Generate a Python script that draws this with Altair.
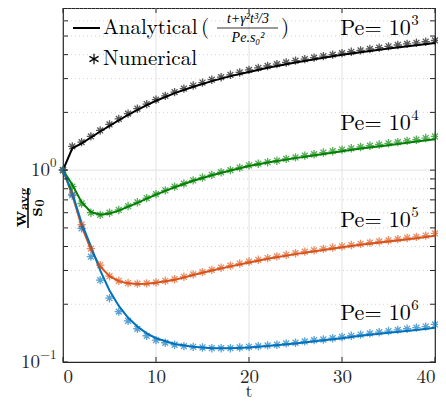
import altair as alt
import pandas as pd

# ---------------- data ----------------
series = ["Pe3", "Pe4", "Pe5", "Pe6"]
colors = ["#000000", "#008000", "#D95319", "#0072BD"]

t_line = [0, 1, 2, 3, 4, 5, 6, 7, 8, 9, 10, 12, 14, 16, 18, 20, 22, 25, 28, 30, 32, 35, 38, 40]
ana_pe3 = [1.0, 1.30, 1.38, 1.48, 1.59, 1.70, 1.82, 1.94, 2.06, 2.18, 2.30, 2.52, 2.72, 2.91, 3.09, 3.25, 3.42, 3.64, 3.85, 3.99, 4.12, 4.30, 4.48, 4.60]
ana_pe4 = [1.0, 0.84, 0.68, 0.605, 0.585, 0.595, 0.615, 0.645, 0.675, 0.71, 0.745, 0.815, 0.88, 0.94, 0.995, 1.05, 1.095, 1.155, 1.215, 1.255, 1.295, 1.35, 1.41, 1.45]
ana_pe5 = [1.0, 0.74, 0.51, 0.385, 0.315, 0.28, 0.264, 0.257, 0.255, 0.256, 0.259, 0.268, 0.284, 0.30, 0.315, 0.33, 0.345, 0.365, 0.384, 0.396, 0.408, 0.425, 0.442, 0.455]
ana_pe6 = [1.0, 0.76, 0.53, 0.40, 0.30, 0.236, 0.196, 0.170, 0.153, 0.141, 0.133, 0.124, 0.120, 0.118, 0.118, 0.119, 0.121, 0.125, 0.130, 0.133, 0.137, 0.142, 0.147, 0.151]

t_num = list(range(0, 41))
num_pe3 = [1.0, 1.33, 1.40, 1.50, 1.61, 1.73, 1.85, 1.97, 2.09, 2.21, 2.33, 2.44, 2.55, 2.66, 2.76, 2.86, 2.96, 3.05, 3.14, 3.23,
           3.33, 3.41, 3.49, 3.57, 3.64, 3.72, 3.79, 3.86, 3.93, 4.00, 4.07, 4.14, 4.21, 4.28, 4.35, 4.42, 4.49, 4.55, 4.61, 4.67, 4.74]
num_pe4 = [1.0, 0.82, 0.67, 0.60, 0.585, 0.60, 0.62, 0.65, 0.68, 0.715, 0.75, 0.785, 0.82, 0.85, 0.885, 0.915, 0.945, 0.975, 1.0, 1.03,
           1.06, 1.08, 1.10, 1.12, 1.145, 1.165, 1.19, 1.21, 1.235, 1.255, 1.28, 1.30, 1.32, 1.34, 1.36, 1.38, 1.40, 1.42, 1.44, 1.47, 1.50]
num_pe5 = [1.0, 0.75, 0.52, 0.39, 0.32, 0.28, 0.265, 0.258, 0.256, 0.257, 0.26, 0.265, 0.27, 0.278, 0.286, 0.294, 0.302, 0.31, 0.318, 0.326,
           0.334, 0.341, 0.348, 0.355, 0.362, 0.369, 0.376, 0.382, 0.389, 0.395, 0.401, 0.407, 0.413, 0.419, 0.425, 0.431, 0.437, 0.443, 0.449, 0.456, 0.468]
num_pe6 = [1.0, 0.74, 0.497, 0.354, 0.267, 0.215, 0.183, 0.164, 0.149, 0.137, 0.130, 0.126, 0.123, 0.121, 0.120, 0.119, 0.118, 0.118, 0.118, 0.119,
           0.120, 0.121, 0.122, 0.123, 0.125, 0.126, 0.128, 0.130, 0.131, 0.133, 0.135, 0.137, 0.139, 0.141, 0.143, 0.145, 0.147, 0.149, 0.151, 0.153, 0.157]

pe_label_v = [5.5, 1.76, 0.55, 0.18]
pe_label_exp_t = [37.4, 37.4, 37.4, 37.4]
pe_label_exp = ["3", "4", "5", "6"]

x_ticks = [0, 10, 20, 30, 40]
x_grid = [10, 20, 30]
y_major = [1]
y_minor = [0.2, 0.3, 0.4, 0.5, 0.6, 0.7, 0.8, 0.9, 2, 3, 4, 5, 6, 7]
y_tick_vals = [0.1, 0.2, 0.3, 0.4, 0.5, 0.6, 0.7, 0.8, 0.9, 1, 2, 3, 4, 5, 6, 7]

# ---------------- layout ----------------
W, H = 372, 354
FONT = "Latin Modern Roman"
SMALLFONT = "Liberation Serif"
FRAME = "#262626"

xscale = alt.Scale(domain=[0, 40], nice=False, zero=False)
yscale = alt.Scale(type="log", domain=[0.1, 7], nice=False)
cscale = alt.Scale(domain=series, range=colors)

ana_rows = []
for s, vals in zip(series, [ana_pe3, ana_pe4, ana_pe5, ana_pe6]):
    for t, v in zip(t_line, vals):
        ana_rows.append({"t": t, "v": v, "s": s})
num_rows = []
for s, vals in zip(series, [num_pe3, num_pe4, num_pe5, num_pe6]):
    for t, v in zip(t_num, vals):
        num_rows.append({"t": t, "v": v, "s": s})
ana_df = pd.DataFrame(ana_rows)
num_df = pd.DataFrame(num_rows)

x_axis_spec = alt.Axis(
    values=x_ticks, ticks=False, domain=False, grid=False, title="",
    labelFont=FONT, labelFontSize=19, labelColor=FRAME, labelPadding=5,
)
X = lambda f: alt.X(f, type="quantitative", scale=xscale, axis=x_axis_spec)
Y = lambda f: alt.Y(f, type="quantitative", scale=yscale, axis=None)

# grids
g_minor = alt.Chart(pd.DataFrame({"v": y_minor})).mark_rule(
    color="#c8c8c8", strokeWidth=0.8, strokeDash=[1, 3]
).encode(y=Y("v"), x=alt.value(0), x2=alt.value(W))
g_major = alt.Chart(pd.DataFrame({"v": y_major})).mark_rule(
    color="#e2e2e2", strokeWidth=1
).encode(y=Y("v"), x=alt.value(0), x2=alt.value(W))
g_x = alt.Chart(pd.DataFrame({"t": x_grid})).mark_rule(
    color="#e2e2e2", strokeWidth=1
).encode(x=X("t"), y=alt.value(0), y2=alt.value(H))

# lines and markers
lines = alt.Chart(ana_df).mark_line(strokeWidth=2, clip=True).encode(
    x=X("t"), y=Y("v"), color=alt.Color("s:N", scale=cscale, legend=None), detail="s:N"
)
STAR = "M0,-1L0,1M-1,0L1,0M-0.7,-0.7L0.7,0.7M-0.7,0.7L0.7,-0.7"
marks = alt.Chart(num_df).mark_point(shape=STAR, filled=False, size=70, strokeWidth=1.3, opacity=0.65).encode(
    x=X("t"), y=Y("v"), color=alt.Color("s:N", scale=cscale, legend=None)
)

# inward ticks
tk_left = alt.Chart(pd.DataFrame({"v": y_tick_vals})).mark_rule(color=FRAME, strokeWidth=1).encode(
    y=Y("v"), x=alt.value(0), x2=alt.value(5))
tk_right = alt.Chart(pd.DataFrame({"v": y_tick_vals})).mark_rule(color=FRAME, strokeWidth=1).encode(
    y=Y("v"), x=alt.value(W - 5), x2=alt.value(W))
tk_bot = alt.Chart(pd.DataFrame({"t": x_ticks})).mark_rule(color=FRAME, strokeWidth=1).encode(
    x=X("t"), y=alt.value(H - 5), y2=alt.value(H))
tk_top = alt.Chart(pd.DataFrame({"t": x_ticks})).mark_rule(color=FRAME, strokeWidth=1).encode(
    x=X("t"), y=alt.value(0), y2=alt.value(5))

# x axis title
x_title = alt.Chart(pd.DataFrame({"l": ["t"]})).mark_text(
    font=FONT, fontSize=18, align="center", baseline="middle", color=FRAME
).encode(x=alt.value(W / 2), y=alt.value(384), text="l:N")

# y tick labels 10^0, 10^-1
ylab = pd.DataFrame({"v": [1, 0.1], "base": ["10", "10"], "exp": ["0", "\u22121"]})
ylab_base0 = alt.Chart(ylab.iloc[[0]]).mark_text(font=FONT, fontSize=19, align="right", baseline="middle", color=FRAME).encode(
    y=Y("v"), x=alt.value(-13), text="base:N")
ylab_exp0 = alt.Chart(ylab.iloc[[0]]).mark_text(font=FONT, fontSize=13, align="left", baseline="middle", dy=-7, color=FRAME).encode(
    y=Y("v"), x=alt.value(-13), text="exp:N")
ylab_base1 = alt.Chart(ylab.iloc[[1]]).mark_text(font=FONT, fontSize=19, align="right", baseline="middle", color=FRAME).encode(
    y=Y("v"), x=alt.value(-23), text="base:N")
ylab_exp1 = alt.Chart(ylab.iloc[[1]]).mark_text(font=FONT, fontSize=13, align="left", baseline="middle", dy=-7, color=FRAME).encode(
    y=Y("v"), x=alt.value(-23), text="exp:N")

# y axis title as a fraction
def rtext(txt, x, y, size, weight="bold"):
    return alt.Chart(pd.DataFrame({"l": [txt]})).mark_text(
        font=FONT, fontSize=size, fontWeight=weight, angle=270, align="center", baseline="middle", color="#000000"
    ).encode(x=alt.value(x), y=alt.value(y), text="l:N")

yt_w = rtext("w", -43, 211, 20)
yt_avg = rtext("avg", -39, 191, 13)
yt_s = rtext("s", -27, 204, 20)
yt_0 = rtext("0", -23, 195, 13)
yt_bar = alt.Chart(pd.DataFrame({"a": [0]})).mark_rule(color="#000000", strokeWidth=1.5).encode(
    x=alt.value(-35), y=alt.value(180), y2=alt.value(220))

# Pe labels
pe_df = pd.DataFrame({"v": pe_label_v, "te": pe_label_exp_t, "e": pe_label_exp, "base": ["Pe= 10"] * 4})
pe_base = alt.Chart(pe_df).mark_text(font=FONT, fontSize=22, align="right", baseline="middle", color="#000000").encode(
    x=X("te"), y=Y("v"), text="base:N")
pe_exp = alt.Chart(pe_df).mark_text(font=FONT, fontSize=15, align="left", baseline="middle", dy=-8, dx=0.5, color="#000000").encode(
    x=X("te"), y=Y("v"), text="e:N")

# legend
def ltext(txt, x, y, size, align="left", style="normal", baseline="alphabetic", font=FONT):
    return alt.Chart(pd.DataFrame({"l": [txt]})).mark_text(
        font=font, fontSize=size, align=align, baseline=baseline, fontStyle=style, color="#000000"
    ).encode(x=alt.value(x), y=alt.value(y), text="l:N")

leg_line = alt.Chart(pd.DataFrame({"a": [0]})).mark_rule(color="#000000", strokeWidth=2).encode(
    x=alt.value(10), x2=alt.value(37), y=alt.value(20))
leg_ana = ltext("Analytical", 40, 26, 21)
leg_open = ltext("(", 138, 26, 21)
leg_num_t = ltext("t+\u03b3\u00b2t\u00b3/3", 185, 11, 14, align="center", style="italic", baseline="middle", font=SMALLFONT)
leg_bar = alt.Chart(pd.DataFrame({"a": [0]})).mark_rule(color="#000000", strokeWidth=0.8).encode(
    x=alt.value(154), x2=alt.value(215), y=alt.value(20))
leg_den = ltext("Pe.s\u2080\u00b2", 185, 30, 14, align="center", style="italic", baseline="middle", font=SMALLFONT)
leg_close = ltext(")", 218, 26, 21)
STAR6 = "M0,-1L0,1M-0.87,-0.5L0.87,0.5M-0.87,0.5L0.87,-0.5"
leg_star = alt.Chart(pd.DataFrame({"a": [0]})).mark_point(
    shape=STAR6, filled=False, size=110, strokeWidth=1.2, color="#000000", opacity=1
).encode(x=alt.value(31), y=alt.value(51))
leg_numl = ltext("Numerical", 40, 57, 21)

chart = alt.layer(
    g_minor, g_major, g_x, lines, marks,
    tk_left, tk_right, tk_bot, tk_top, x_title,
    ylab_base0, ylab_exp0, ylab_base1, ylab_exp1,
    yt_w, yt_avg, yt_s, yt_0, yt_bar,
    pe_base, pe_exp,
    leg_line, leg_ana, leg_open, leg_num_t, leg_bar, leg_den, leg_close, leg_star, leg_numl,
).properties(
    width=W, height=H,
    autosize=alt.AutoSizeParams(type="none"),
    padding={"left": 55, "top": 0, "right": 3, "bottom": 37},
).configure_view(stroke=FRAME, strokeWidth=1.2)

chart.save("out.html", embed_options={"renderer": "svg", "actions": False})
